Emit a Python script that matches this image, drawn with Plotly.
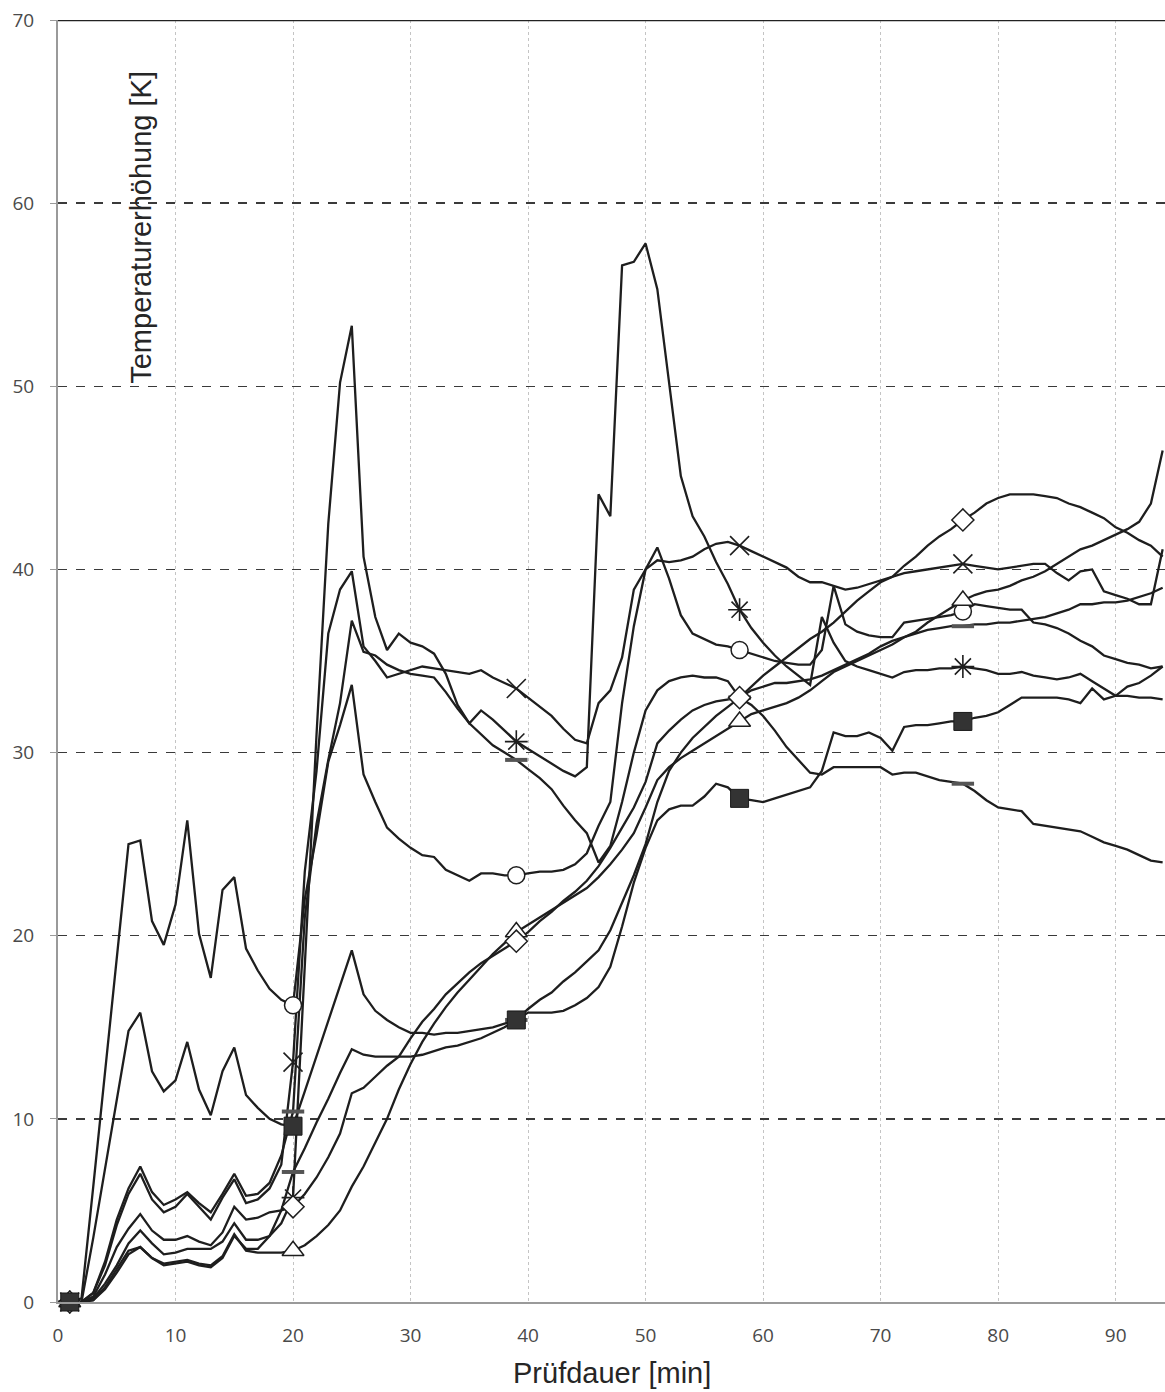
import plotly.graph_objects as go

minutes = list(range(1, 95))
marker_minutes = [1, 20, 39, 58, 77]
x_ticks = [0, 10, 20, 30, 40, 50, 60, 70, 80, 90]
y_ticks = [0, 10, 20, 30, 40, 50, 60, 70]

circle_y = [0, 0.2, 6.3, 12.5, 18.8, 25.0, 25.2, 20.8, 19.5, 21.7,
            26.3, 20.1, 17.7, 22.5, 23.2, 19.3, 18.1, 17.1, 16.5, 16.2,
            22.0, 25.5, 29.5, 31.5, 33.7, 28.8, 27.3, 25.9, 25.3, 24.8,
            24.4, 24.3, 23.6, 23.3, 23.0, 23.4, 23.4, 23.3, 23.3, 23.4,
            23.5, 23.5, 23.6, 23.9, 24.5, 26.0, 27.3, 32.7, 36.9, 40.0,
            41.2, 39.5, 37.5, 36.5, 36.2, 35.9, 35.8, 35.6, 35.4, 35.2,
            35.0, 34.9, 34.8, 34.8, 35.6, 39.1, 37.0, 36.6, 36.4, 36.3,
            36.3, 37.1, 37.2, 37.3, 37.4, 37.5, 37.7, 38.1, 38.0, 37.9,
            37.8, 37.8, 37.1, 37.0, 36.8, 36.5, 36.1, 35.8, 35.3, 35.1,
            34.9, 34.8, 34.6, 34.7]

square_y = [0, 0, 3.5, 7.3, 11.0, 14.8, 15.8, 12.6, 11.5, 12.1,
            14.2, 11.6, 10.2, 12.6, 13.9, 11.3, 10.6, 10.0, 9.7, 9.6,
            11.5, 13.4, 15.3, 17.2, 19.2, 16.8, 15.9, 15.4, 15.0, 14.7,
            14.7, 14.6, 14.7, 14.7, 14.8, 14.9, 15.0, 15.2, 15.4, 15.8,
            15.8, 15.8, 15.9, 16.2, 16.6, 17.2, 18.3, 20.5, 22.9, 24.8,
            26.3, 26.9, 27.1, 27.1, 27.6, 28.3, 28.1, 27.5, 27.4, 27.3,
            27.5, 27.7, 27.9, 28.1, 29.0, 31.1, 30.9, 30.9, 31.1, 30.8,
            30.1, 31.4, 31.5, 31.5, 31.6, 31.7, 31.7, 31.9, 32.0, 32.2,
            32.6, 33.0, 33.0, 33.0, 33.0, 32.9, 32.7, 33.5, 32.9, 33.1,
            33.6, 33.8, 34.2, 34.7]

cross_y = [0, 0, 0.5, 2.0, 4.2, 5.9, 7.0, 5.6, 4.9, 5.2,
           5.9, 5.2, 4.5, 5.7, 6.7, 5.4, 5.6, 6.2, 7.5, 13.1,
           23.5, 29.0, 36.5, 38.9, 39.9, 35.8, 35.0, 34.1, 34.3, 34.5,
           34.7, 34.6, 34.5, 34.4, 34.3, 34.5, 34.1, 33.8, 33.5, 33.0,
           32.5, 32.0, 31.3, 30.7, 30.5, 32.7, 33.4, 35.2, 38.9, 40.0,
           40.5, 40.4, 40.5, 40.7, 41.1, 41.4, 41.5, 41.3, 41.0, 40.7,
           40.4, 40.1, 39.6, 39.3, 39.3, 39.1, 38.9, 39.0, 39.2, 39.4,
           39.6, 39.8, 39.9, 40.0, 40.1, 40.2, 40.3, 40.2, 40.1, 40.0,
           40.1, 40.2, 40.3, 40.3, 39.8, 39.4, 39.9, 40.0, 38.8, 38.6,
           38.4, 38.1, 38.1, 41.1]

star_y = [0, 0, 0.2, 1.0, 2.0, 3.2, 3.9, 3.2, 2.6, 2.7,
          2.9, 2.9, 2.9, 3.3, 4.3, 3.4, 3.4, 3.6, 4.3, 5.7,
          18.0, 31.0, 42.5, 50.2, 53.3, 40.7, 37.4, 35.6, 36.5, 36.0,
          35.8, 35.4, 34.3, 32.6, 31.6, 32.3, 31.8, 31.2, 30.6, 30.2,
          29.8, 29.4, 29.0, 28.7, 29.2, 44.1, 42.9, 56.6, 56.8, 57.8,
          55.3, 50.2, 45.1, 42.9, 41.8, 40.4, 39.2, 37.8, 36.8, 36.0,
          35.3, 34.7, 34.2, 33.7, 37.4, 36.0, 35.0, 34.7, 34.5, 34.3,
          34.1, 34.4, 34.5, 34.5, 34.6, 34.6, 34.7, 34.6, 34.5, 34.3,
          34.3, 34.4, 34.2, 34.1, 34.0, 34.1, 34.3, 33.9, 33.5, 33.1,
          33.1, 33.0, 33.0, 32.9]

dash_a_y = [0, 0, 0.5, 2.2, 4.5, 6.2, 7.4, 6.0, 5.3, 5.6,
            6.0, 5.4, 4.9, 5.9, 7.0, 5.8, 5.9, 6.5, 8.0, 10.4,
            21.0, 26.1, 29.6, 32.7, 37.2, 35.5, 35.3, 34.8, 34.5, 34.3,
            34.2, 34.1, 33.3, 32.4, 31.6, 31.0, 30.4, 30.0, 29.6, 29.1,
            28.6, 28.0, 27.1, 26.3, 25.6, 24.0, 24.9, 27.3, 30.0, 32.3,
            33.4, 33.9, 34.1, 34.2, 34.1, 34.1, 33.9, 33.0, 32.6, 32.0,
            31.2, 30.3, 29.6, 28.9, 28.8, 29.2, 29.2, 29.2, 29.2, 29.2,
            28.8, 28.9, 28.9, 28.7, 28.5, 28.4, 28.3, 27.9, 27.4, 27.0,
            26.9, 26.8, 26.1, 26.0, 25.9, 25.8, 25.7, 25.4, 25.1, 24.9,
            24.7, 24.4, 24.1, 24.0]

dash_b_y = [0, 0, 0.1, 0.8, 1.8, 2.8, 3.0, 2.4, 2.0, 2.1,
            2.2, 2.0, 1.9, 2.4, 3.6, 2.9, 2.9, 3.6, 5.0, 7.1,
            8.4, 9.8, 11.1, 12.5, 13.8, 13.5, 13.4, 13.4, 13.4, 13.4,
            13.5, 13.7, 13.9, 14.0, 14.2, 14.4, 14.7, 15.0, 15.4, 16.0,
            16.5, 16.9, 17.5, 18.0, 18.6, 19.2, 20.3, 21.8, 23.3, 25.0,
            27.3, 29.0, 30.0, 30.8, 31.4, 32.0, 32.5, 33.0, 33.4, 33.6,
            33.8, 33.8, 33.9, 34.0, 34.2, 34.5, 34.8, 35.1, 35.4, 35.8,
            36.1, 36.3, 36.5, 36.7, 36.8, 36.9, 36.9, 37.0, 37.0, 37.1,
            37.1, 37.2, 37.3, 37.4, 37.6, 37.8, 38.1, 38.1, 38.2, 38.2,
            38.3, 38.5, 38.7, 39.0]

triangle_y = [0, 0, 0.1, 0.7, 1.6, 2.6, 3.0, 2.4, 2.1, 2.2,
              2.3, 2.1, 2.0, 2.5, 3.7, 2.8, 2.7, 2.7, 2.7, 2.8,
              3.1, 3.6, 4.2, 5.0, 6.3, 7.4, 8.7, 10.0, 11.6, 13.0,
              14.2, 15.2, 16.1, 16.9, 17.6, 18.3, 19.0, 19.6, 20.2, 20.6,
              21.0, 21.4, 21.8, 22.2, 22.6, 23.2, 23.9, 24.7, 25.6, 27.0,
              28.5, 29.2, 29.7, 30.1, 30.5, 30.9, 31.3, 31.7, 32.1, 32.3,
              32.5, 32.7, 33.0, 33.4, 33.9, 34.4, 34.7, 35.0, 35.3, 35.6,
              35.9, 36.3, 36.6, 37.1, 37.5, 37.9, 38.3, 38.6, 38.8, 38.9,
              39.1, 39.4, 39.6, 39.9, 40.3, 40.7, 41.1, 41.3, 41.6, 41.9,
              42.2, 42.6, 43.6, 46.5]

diamond_y = [0, 0, 0.3, 1.5, 3.0, 4.0, 4.8, 3.9, 3.4, 3.4,
             3.6, 3.3, 3.1, 3.8, 5.2, 4.5, 4.6, 4.9, 5.0, 5.2,
             5.9, 6.8, 7.9, 9.2, 11.4, 11.7, 12.3, 12.9, 13.4, 14.4,
             15.3, 16.0, 16.8, 17.4, 18.0, 18.5, 18.9, 19.3, 19.7, 20.2,
             20.8, 21.3, 21.9, 22.4, 23.0, 23.8, 24.8, 25.9, 27.0, 28.4,
             30.5, 31.2, 31.8, 32.3, 32.6, 32.8, 32.9, 33.0, 33.6, 34.2,
             34.7, 35.2, 35.7, 36.2, 36.6, 37.1, 37.7, 38.3, 38.8, 39.3,
             39.6, 40.2, 40.7, 41.3, 41.8, 42.2, 42.7, 43.1, 43.6, 43.9,
             44.1, 44.1, 44.1, 44.0, 43.9, 43.6, 43.4, 43.1, 42.8, 42.3,
             42.0, 41.6, 41.3, 40.7]

LINE = "#1e1e1e"
series = [
    ("Kreis", circle_y, dict(symbol="circle", size=17, color="white", line=dict(color=LINE, width=1.5))),
    ("Kreuz", cross_y, dict(symbol="x-thin", size=19, color=LINE, line=dict(color=LINE, width=1.6))),
    ("Stern", star_y, dict(symbol="asterisk", size=19, color=LINE, line=dict(color=LINE, width=1.6))),
    ("Strich A", dash_a_y, dict(symbol="line-ew", size=16, color="#555", line=dict(color="#555", width=4))),
    ("Strich B", dash_b_y, dict(symbol="line-ew", size=16, color="#555", line=dict(color="#555", width=4))),
    ("Dreieck", triangle_y, dict(symbol="triangle-up", size=19, color="white", line=dict(color=LINE, width=1.5))),
    ("Raute", diamond_y, dict(symbol="diamond", size=17, color="white", line=dict(color=LINE, width=1.5))),
    ("Quadrat", square_y, dict(symbol="square", size=18, color="#333333", line=dict(color="#1a1a1a", width=1))),
]

fig = go.Figure()
for name, ys, mk in series:
    assert len(ys) == len(minutes), name
    fig.add_trace(go.Scatter(x=minutes, y=ys, mode="lines", name=name,
                             line=dict(color=LINE, width=2.3), showlegend=False))
for name, ys, mk in series:
    mx = [m for m in minutes if m in marker_minutes]
    my = [ys[minutes.index(m)] for m in mx]
    fig.add_trace(go.Scatter(x=mx, y=my, mode="markers", name=name, marker=mk,
                             cliponaxis=False, showlegend=False))

tick_font = dict(family="Open Sans", size=19, color="#4a4a4a")
fig.update_xaxes(range=[0, 94.2], tickvals=x_ticks, showgrid=True, gridcolor="#c4c4c4",
                 griddash="dot", gridwidth=1, showline=True, linecolor="#9a9a9a", linewidth=2,
                 ticks="", zeroline=False, tickfont=tick_font, ticklabelstandoff=15)
fig.update_yaxes(range=[0, 70], tickvals=y_ticks, showgrid=True, gridcolor="#3a3a3a",
                 griddash="dash", gridwidth=1.3, showline=True, linecolor="#9a9a9a", linewidth=2,
                 ticks="outside", ticklen=6, tickcolor="#9a9a9a", zeroline=False, tickfont=tick_font,
                 ticklabelstandoff=12)

fig.add_shape(type="line", xref="paper", x0=0, x1=1, yref="y", y0=70, y1=70,
              line=dict(color="#222222", width=2.5))

fig.add_annotation(text="Temperaturerhöhung [K]", textangle=-90, xref="x", yref="y",
                   x=7.0, y=58.67, showarrow=False,
                   font=dict(family="Liberation Sans", size=29, color="#262626"))
fig.add_annotation(text="Prüfdauer [min]", xref="paper", yref="paper", x=0.5, y=0,
                   yanchor="middle", yshift=-71, showarrow=False,
                   font=dict(family="Liberation Sans", size=29, color="#262626"))

fig.update_layout(width=1165, height=1392, margin=dict(l=58, r=0, t=20, b=90),
                  paper_bgcolor="white", plot_bgcolor="white", hovermode=False)
fig.write_html("out.html", config={"displayModeBar": False, "staticPlot": True},
               post_script="document.body.style.margin='0px';")
